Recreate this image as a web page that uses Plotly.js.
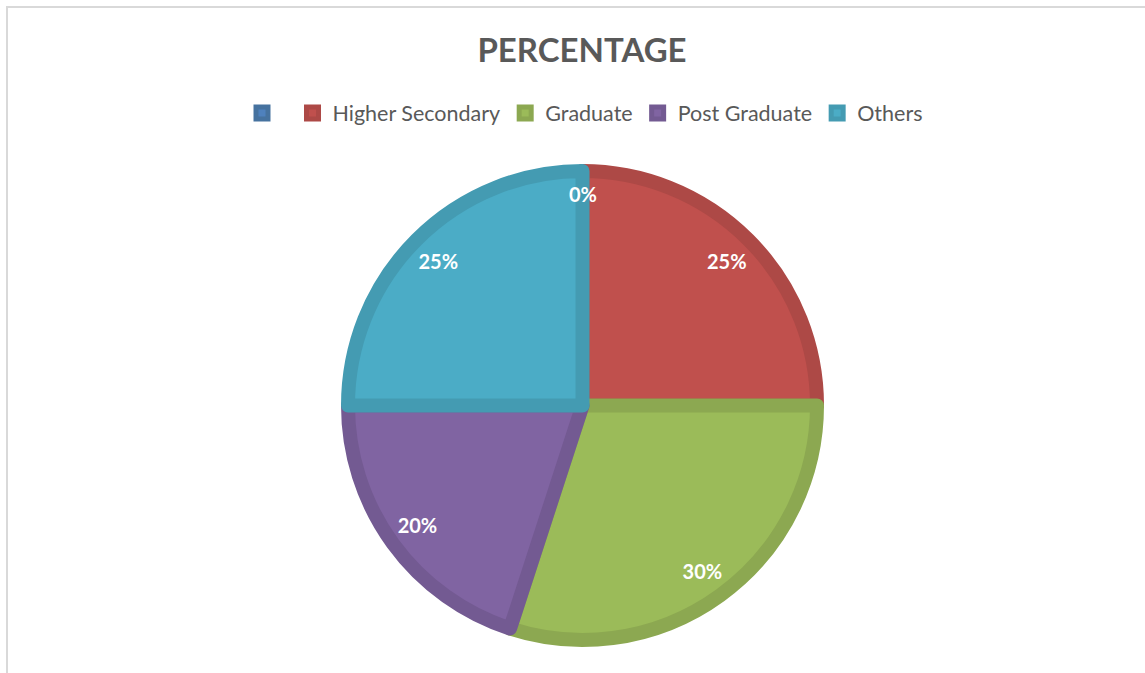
<!DOCTYPE html>
<html>
<head>
<meta charset="utf-8">
<script src="https://cdn.plot.ly/plotly-3.0.1.min.js"></script>
<style>
  body { margin: 0; background: #fff; }
  #chart { width: 1145px; height: 673px; }
  #frame {
    position: absolute; left: 6px; top: 6px; right: 0; bottom: 0;
    border-left: 2px solid #d9d9d9; border-top: 2px solid #d9d9d9;
    pointer-events: none;
  }
</style>
</head>
<body>
<div id="chart"></div>
<div id="frame"></div>
<script>
// categories and shares
var categories = [" ", "Higher Secondary", "Graduate", "Post Graduate", "Others"];
var shares = [0, 25, 30, 20, 25];
var fillColors = ["#4F81BD", "#C0504D", "#9BBB59", "#8064A2", "#4BACC6"];
var edgeColors = ["#46729F", "#AD4946", "#8CA851", "#735A92", "#449BB2"];

var slices = {
  type: "pie",
  labels: categories,
  values: shares,
  sort: false,
  direction: "clockwise",
  rotation: 0,
  marker: {
    colors: fillColors,
    line: { color: edgeColors, width: 14 }
  },
  textinfo: "none",
  hoverinfo: "label+percent",
  showlegend: true
};

// transparent ring, only used to place the percent labels out near the rim
var labelRing = {
  type: "pie",
  labels: categories,
  values: shares,
  sort: false,
  direction: "clockwise",
  rotation: 0,
  hole: 0.74,
  marker: {
    colors: categories.map(function() { return "rgba(0,0,0,0)"; }),
    line: { width: 0 }
  },
  textinfo: "percent",
  textposition: "inside",
  insidetextorientation: "horizontal",
  insidetextfont: { family: "Lato", size: 20, color: "#ffffff", weight: "bold" },
  hoverinfo: "skip",
  showlegend: false
};

// the empty first slice gets no text from the pie, so its 0% goes in by hand
var zeroShare = shares[0] + "%";

var layout = {
  width: 1145,
  height: 673,
  margin: { l: 30, r: 10, t: 171, b: 33 },
  paper_bgcolor: "#ffffff",
  title: {
    text: "PERCENTAGE",
    font: { family: "Lato", size: 33, color: "#595959", weight: "bold" },
    x: 582 / 1145, xref: "container", xanchor: "center",
    y: 1 - 50 / 673, yref: "container", yanchor: "middle"
  },
  legend: {
    orientation: "h",
    x: 585 / 1145, xref: "container", xanchor: "center",
    y: 1 - 113 / 673, yref: "container", yanchor: "middle",
    font: { family: "Lato", size: 21.5, color: "#595959" },
    traceorder: "normal"
  },
  annotations: [{
    text: zeroShare,
    showarrow: false,
    xref: "paper", yref: "paper",
    x: 0.5, y: 0.95, yanchor: "middle",
    font: { family: "Lato", size: 20, color: "#ffffff", weight: "bold" }
  }]
};

Plotly.newPlot("chart", [slices, labelRing], layout, { displayModeBar: false });
</script>
</body>
</html>
